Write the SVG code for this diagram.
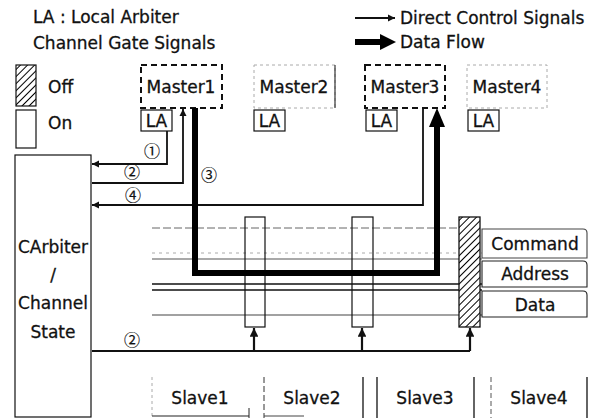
<svg xmlns="http://www.w3.org/2000/svg" width="593" height="418" viewBox="0 0 593 418">
<style>
text{font-family:"DejaVu Sans","Liberation Sans",sans-serif;font-size:17px;fill:#111;stroke:#111;stroke-width:0.3}
.c{text-anchor:middle}
.num{font-family:"Noto Sans CJK KR","DejaVu Sans",sans-serif;font-size:16px;text-anchor:middle;stroke-width:0.2}
.box{fill:none;stroke:#111;stroke-width:1.2}
.dash{fill:none;stroke:#111;stroke-width:2;stroke-dasharray:6 4}
.faint{fill:none;stroke:#aaa;stroke-width:1;stroke-dasharray:3 3}
.ctl{fill:none;stroke:#111;stroke-width:1.8}
.ctl2{fill:none;stroke:#111;stroke-width:2.2}
.thick{fill:none;stroke:#000;stroke-width:6}
</style>
<defs>
<pattern id="hatch" patternUnits="userSpaceOnUse" width="5" height="5" patternTransform="rotate(45)">
<rect width="5" height="5" fill="#fff"/>
<line x1="0" y1="0" x2="0" y2="5" stroke="#000" stroke-width="2"/>
</pattern>
<marker id="ah" viewBox="0 0 10 10" refX="10" refY="5" markerWidth="4" markerHeight="4" orient="auto" markerUnits="strokeWidth">
<path d="M0,0 L10,5 L0,10 z" fill="#111"/>
</marker>
</defs>

<g id="legend">
<text x="33" y="23">LA : Local Arbiter</text>
<text x="33" y="49">Channel Gate Signals</text>
<line x1="355" y1="18" x2="395" y2="18" class="ctl" marker-end="url(#ah)"/>
<text x="400" y="24">Direct Control Signals</text>
<line x1="355" y1="42" x2="382" y2="42" stroke="#000" stroke-width="6"/>
<polygon points="380,34 396,42 380,50" fill="#000"/>
<text x="400" y="48">Data Flow</text>
<rect x="16" y="65" width="20" height="41" fill="url(#hatch)" stroke="#111" stroke-width="1.2"/>
<text x="48" y="93">Off</text>
<rect x="16" y="110" width="20" height="38" class="box"/>
<text x="48" y="129">On</text>
</g>

<g id="master1">
<rect x="141" y="65" width="81" height="43" class="dash"/>
<text x="181" y="93" class="c">Master1</text>
<rect x="141" y="110" width="31" height="21" class="box"/>
<text x="156.5" y="127" class="c">LA</text>
</g>
<g id="master2">
<rect x="254" y="65" width="81" height="43" class="faint"/>
<line x1="335" y1="65" x2="335" y2="108" stroke="#333" stroke-width="1.2"/>
<text x="294" y="93" class="c">Master2</text>
<rect x="254" y="110" width="31" height="21" class="box"/>
<text x="269.5" y="127" class="c">LA</text>
</g>
<g id="master3">
<rect x="365" y="65" width="80" height="43" class="dash"/>
<text x="405" y="93" class="c">Master3</text>
<rect x="366" y="110" width="31" height="21" class="box"/>
<text x="381.5" y="127" class="c">LA</text>
</g>
<g id="master4">
<rect x="467" y="65" width="80" height="43" class="faint"/>
<text x="507" y="93" class="c">Master4</text>
<rect x="468" y="110" width="31" height="21" class="box"/>
<text x="483.5" y="127" class="c">LA</text>
</g>

<g id="carbiter">
<rect x="15" y="155" width="76" height="262" class="box"/>
<text x="53" y="253" class="c">CArbiter</text>
<text x="53" y="281" class="c">/</text>
<text x="53" y="309" class="c">Channel</text>
<text x="53" y="338" class="c">State</text>
</g>

<g id="bus">
<line x1="152" y1="228" x2="482" y2="228" stroke="#666" stroke-width="1" stroke-dasharray="8 3"/>
<line x1="152" y1="253" x2="482" y2="253" stroke="#aaa" stroke-width="1" stroke-dasharray="3 4"/>
<line x1="152" y1="259" x2="482" y2="259" stroke="#555" stroke-width="1.2"/>
<line x1="152" y1="284" x2="482" y2="284" stroke="#111" stroke-width="1.3"/>
<line x1="152" y1="290" x2="482" y2="290" stroke="#111" stroke-width="1.3"/>
<line x1="152" y1="315" x2="482" y2="315" stroke="#444" stroke-width="1.1"/>
</g>
<g id="command">
<path d="M482,229 H583 Q587,229 587,233 V258 H482 Z" fill="none" stroke="#444" stroke-width="1.1"/>
<text x="535" y="250" class="c">Command</text>
</g>
<g id="address">
<path d="M482,261 H583 Q587,261 587,265 V287 H482 Z" fill="none" stroke="#222" stroke-width="1.1"/>
<text x="535" y="280" class="c">Address</text>
</g>
<g id="data">
<path d="M482,291 H583 Q587,291 587,295 V317 H482 Z" fill="none" stroke="#222" stroke-width="1.1"/>
<text x="535" y="311" class="c">Data</text>
</g>

<g id="gate1"><rect x="245" y="217" width="20" height="110" class="box"/></g>
<g id="gate2"><rect x="352" y="217" width="21" height="110" class="box"/></g>
<g id="gate3"><rect x="459" y="217" width="21" height="110" fill="url(#hatch)" stroke="#111" stroke-width="1.3"/></g>

<g id="slave1">
<line x1="152" y1="377" x2="152" y2="418" stroke="#aaa" stroke-width="1" stroke-dasharray="3 3"/>
<line x1="152" y1="416" x2="249" y2="416" stroke="#222" stroke-width="1.1"/>
<line x1="249" y1="408" x2="249" y2="418" stroke="#222" stroke-width="1"/>
<text x="200" y="404" class="c">Slave1</text>
</g>
<g id="slave2">
<line x1="264" y1="377" x2="264" y2="418" stroke="#333" stroke-width="1" stroke-dasharray="6 3"/>
<line x1="264" y1="416" x2="304" y2="416" stroke="#444" stroke-width="1"/>
<line x1="363" y1="377" x2="363" y2="418" stroke="#111" stroke-width="1.3"/>
<text x="312" y="404" class="c">Slave2</text>
</g>
<g id="slave3">
<line x1="377" y1="377" x2="377" y2="418" stroke="#111" stroke-width="1.3"/>
<line x1="474" y1="377" x2="474" y2="418" stroke="#111" stroke-width="1.3"/>
<text x="425" y="404" class="c">Slave3</text>
</g>
<g id="slave4">
<line x1="491" y1="377" x2="491" y2="418" stroke="#555" stroke-width="1" stroke-dasharray="5 3"/>
<line x1="587" y1="377" x2="587" y2="418" stroke="#111" stroke-width="1.3"/>
<text x="539" y="404" class="c">Slave4</text>
</g>

<g id="connectors">
<path d="M167,131 V164 H92" class="ctl" marker-end="url(#ah)"/>
<path d="M92,183 H183 V109" class="ctl" marker-end="url(#ah)"/>
<path d="M423,108 V205 H92" class="ctl" marker-end="url(#ah)"/>
<path d="M195,108 V273 H437 V126" class="thick"/>
<polygon points="437,108 429,127 445,127" fill="#000"/>
<path d="M92,351 H470" class="ctl2"/>
<path d="M254,351 V328" class="ctl2" marker-end="url(#ah)"/>
<path d="M362,351 V328" class="ctl2" marker-end="url(#ah)"/>
<path d="M470,351 V328" class="ctl2" marker-end="url(#ah)"/>
<text x="152" y="157" class="num">①</text>
<text x="132" y="178" class="num">②</text>
<text x="209" y="181" class="num">③</text>
<text x="133" y="201" class="num">④</text>
<text x="132" y="346" class="num">②</text>
</g>
</svg>
